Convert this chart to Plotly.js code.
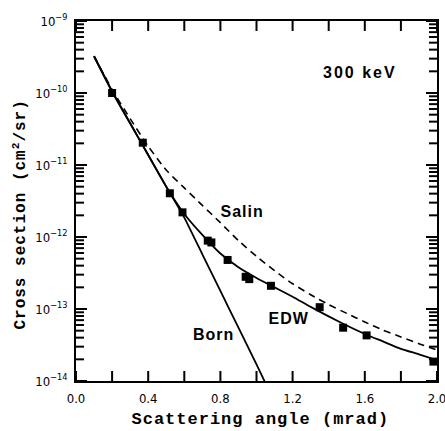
<!DOCTYPE html>
<html>
<head>
<meta charset="utf-8">
<script src="https://cdn.plot.ly/plotly-3.0.1.min.js"></script>
<style>
  html, body { margin: 0; padding: 0; background: #fff; }
  #chart { width: 445px; height: 431px; }
  .annotation-text { letter-spacing: 2px; }
  .annotation:nth-of-type(n+5) .annotation-text { letter-spacing: 1px; }
</style>
</head>
<body>
<div id="chart"></div>
<script>
// Scattering angle grid (mrad) for theory curves
const angleGrid = [0.1, 0.2, 0.3, 0.4, 0.5, 0.6, 0.7, 0.8, 0.9, 1.0,
                   1.1, 1.2, 1.3, 1.4, 1.5, 1.6, 1.7, 1.8, 1.9, 2.0];
// EDW (solid) cross section, cm^2/sr
const edwValues = [3.24e-10, 1.05e-10, 3.8e-11, 1.38e-11, 5.0e-12, 2.09e-12, 1.07e-12, 5.9e-13, 3.8e-13, 2.7e-13,
                   2.0e-13, 1.48e-13, 1.07e-13, 7.9e-14, 5.9e-14, 4.5e-14, 3.55e-14, 2.8e-14, 2.35e-14, 1.95e-14];
// Salin (dashed) cross section, cm^2/sr
const salinValues = [3.24e-10, 1.12e-10, 4.4e-11, 1.82e-11, 8.5e-12, 4.8e-12, 2.75e-12, 1.58e-12, 8.9e-13, 5.4e-13,
                     3.4e-13, 2.24e-13, 1.58e-13, 1.15e-13, 8.7e-14, 6.6e-14, 5.1e-14, 4.1e-14, 3.3e-14, 2.7e-14];
// Born (solid, steep)
const bornAngles = [0.1, 0.2, 0.3, 0.4, 0.5, 0.6, 0.7, 0.8, 0.9, 1.0, 1.05];
const bornValues = [3.24e-10, 1.05e-10, 3.8e-11, 1.38e-11, 5.0e-12, 1.86e-12, 5.75e-13, 1.78e-13, 5.5e-14, 1.7e-14, 9.3e-15];
// Measured points
const expAngles = [0.20, 0.37, 0.52, 0.59, 0.73, 0.75, 0.84, 0.94, 0.96, 1.08, 1.35, 1.48, 1.61, 1.98];
const expValues = [1.0e-10, 2.04e-11, 4.05e-12, 2.2e-12, 8.9e-13, 8.4e-13, 4.8e-13, 2.8e-13, 2.6e-13, 2.1e-13, 1.06e-13, 5.5e-14, 4.3e-14, 1.86e-14];
// Axis ticks
const xTickVals = [0.0, 0.4, 0.8, 1.2, 1.6, 2.0];
const xTickText = ["0.0", "0.4", "0.8", "1.2", "1.6", "2.0"];
const xMinorVals = [0.2, 0.6, 1.0, 1.4, 1.8];
const yDecades = [-14, -13, -12, -11, -10, -9];
const yDecadeText = ["10<sup>−14</sup>", "10<sup>−13</sup>", "10<sup>−12</sup>", "10<sup>−11</sup>", "10<sup>−10</sup>", "10<sup>−9</sup>"];
const labels = { energy: '300 keV', salin: 'Salin', edw: 'EDW', born: 'Born',
                 xTitle: 'Scattering angle (mrad)', yTitle: 'Cross section (cm<sup>2</sup>/sr)' };

const yTickVals = yDecades.map(d => Math.pow(10, d));
const yMinorVals = [];
yDecades.slice(0, -1).forEach(d => { for (let k = 2; k <= 9; k++) yMinorVals.push(k * Math.pow(10, d)); });

// Inside tick marks on all four sides (pixel-sized shapes at the tick values)
const tickLine = { color: '#000', width: 2 };
const shapes = [];
xTickVals.concat(xMinorVals).forEach(v => {
  [[0, 10], [1, -10]].forEach(([anchor, len]) => shapes.push({
    type: 'line', xref: 'x', yref: 'paper', ysizemode: 'pixel', yanchor: anchor,
    x0: v, x1: v, y0: 0, y1: len, line: tickLine, layer: 'above' }));
});
yTickVals.map(v => [v, 11]).concat(yMinorVals.map(v => [v, 8])).forEach(([v, L]) => {
  [[0, L], [1, -L]].forEach(([anchor, len]) => shapes.push({
    type: 'line', xref: 'paper', yref: 'y', xsizemode: 'pixel', xanchor: anchor,
    x0: 0, x1: len, y0: v, y1: v, line: tickLine, layer: 'above' }));
});

const lineStyle = { color: '#000', width: 1.8 };
const traces = [
  { x: angleGrid, y: salinValues, mode: 'lines', line: { color: '#000', width: 1.6, dash: '7px,5px', shape: 'spline', smoothing: 0.6 }, hoverinfo: 'skip' },
  { x: angleGrid, y: edwValues, mode: 'lines', line: Object.assign({ shape: 'spline', smoothing: 0.6 }, lineStyle), hoverinfo: 'skip' },
  { x: bornAngles, y: bornValues, mode: 'lines', line: Object.assign({ shape: 'spline', smoothing: 0.4 }, lineStyle), hoverinfo: 'skip' },
  { x: expAngles, y: expValues, mode: 'markers', marker: { symbol: 'square', size: 8, color: '#000' }, hoverinfo: 'skip' }
];

const tickFont = { family: 'Liberation Sans Narrow, DejaVu Sans Condensed, Liberation Sans, sans-serif', size: 13, color: '#000' };
const titleFont = { family: 'Liberation Mono, DejaVu Sans Mono, monospace', size: 17, color: '#000', weight: 'bold' };
const annFont = { family: 'Liberation Sans, Arial, sans-serif', size: 16, color: '#000', weight: 'bold' };

const axisCommon = {
  ticks: '', showline: true, linecolor: '#000', linewidth: 2, mirror: true,
  showgrid: false, zeroline: false, tickfont: tickFont, ticklabeloverflow: 'allow', ticklabelstandoff: 4
};

const layout = {
  width: 445, height: 431,
  margin: { l: 76, r: 8, t: 21, b: 50 },
  paper_bgcolor: '#fff', plot_bgcolor: '#fff',
  showlegend: false,
  xaxis: Object.assign({ range: [0, 2.0], tickmode: 'array', tickvals: xTickVals, ticktext: xTickText }, axisCommon),
  yaxis: Object.assign({ type: 'log', range: [-14, -9], tickmode: 'array', tickvals: yTickVals, ticktext: yDecadeText }, axisCommon),
  shapes: shapes,
  annotations: [
    { x: 1.573, y: -9.71, xref: 'x', yref: 'y', text: labels.energy, showarrow: false, font: annFont },
    { x: 0.92, y: -11.64, xref: 'x', yref: 'y', text: labels.salin, showarrow: false, font: annFont },
    { x: 1.175, y: -13.125, xref: 'x', yref: 'y', text: labels.edw, showarrow: false, font: annFont },
    { x: 0.759, y: -13.36, xref: 'x', yref: 'y', text: labels.born, showarrow: false, font: annFont },
    { x: 0.512, y: -0.108, xref: 'paper', yref: 'paper', xanchor: 'center', yanchor: 'middle',
      text: labels.xTitle, showarrow: false, font: titleFont },
    { x: -0.155, y: 0.4625, xref: 'paper', yref: 'paper', xanchor: 'center', yanchor: 'middle', textangle: -90,
      text: labels.yTitle, showarrow: false, font: Object.assign({}, titleFont, { size: 16 }) }
  ]
};

Plotly.newPlot('chart', traces, layout, { staticPlot: true, displayModeBar: false });
</script>
</body>
</html>
